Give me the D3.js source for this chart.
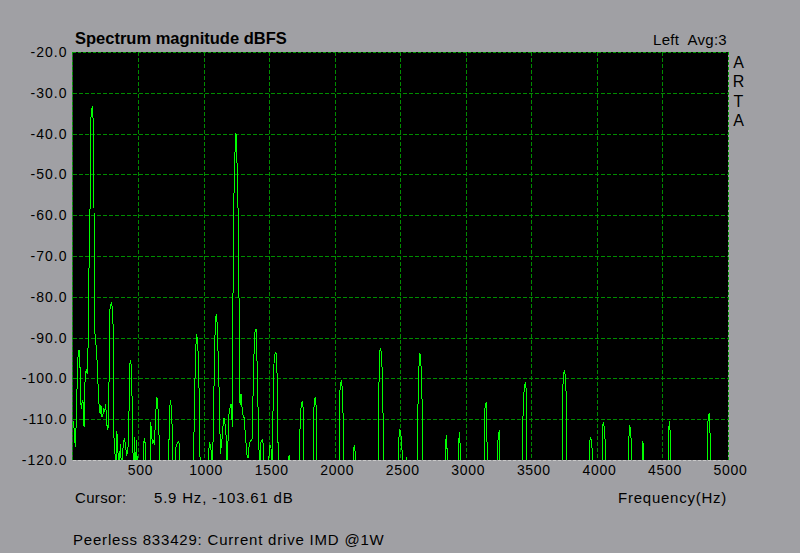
<!DOCTYPE html>
<html><head><meta charset="utf-8">
<script src="https://cdn.jsdelivr.net/npm/d3@7"></script>
<style>
html,body{margin:0;padding:0;background:#a0a0a4;}
svg{display:block;}
text{font-family:"Liberation Sans",Arial,sans-serif;fill:#000;white-space:pre;}
</style></head>
<body>
<svg id="chart" width="800" height="553"></svg>
<script>
// ---- data ----
const yTicks = [-20,-30,-40,-50,-60,-70,-80,-90,-100,-110,-120];
const xTicks = [500,1000,1500,2000,2500,3000,3500,4000,4500,5000];
const xGrid = [500,1000,1500,2000,2500,3000,3500,4000,4500];
const yGrid = [-30,-40,-50,-60,-70,-80,-90,-100,-110];
const titleText = "Spectrum magnitude dBFS";
const channelText = "Left  Avg:3";
const brandLetters = ["A","R","T","A"];
const cursorLabel = "Cursor:";
const cursorValue = "5.9 Hz, -103.61 dB";
const xAxisTitle = "Frequency(Hz)";
const caption = "Peerless 833429: Current drive IMD @1W";

// spectrum (frequency in Hz, level in dBFS); values below -120 fall under the floor
const spectrumHz = [
 0,6,11,16,21,27,32,39,44,50,55,60,63,68,75,82,88,93,100,106,112,116,121,128,
 133,138,146,151,157,164,167,172,179,184,192,197,205,210,217,225,233,238,245,253,
 261,268,276,283,291,296,304,309,314,322,329,337,345,352,360,367,375,383,390,398,
 406,413,421,428,436,444,451,459,466,474,482,489,497,540,545,548,556,563,591,594,
 601,609,617,624,634,642,650,657,665,672,731,739,746,754,761,769,782,785,792,800,
 807,815,822,
 922,929,937,945,952,960,967,975,1036,1040,1044,1051,1059,1066,1074,1082,1090,1097,
 1105,1112,1120,1128,1135,1143,1151,1158,1166,1174,1181,1189,1196,1204,1212,1219,
 1227,1235,1242,1247,1252,1260,1268,1273,1278,1285,1293,1301,1308,1316,1324,1331,
 1339,1346,1354,1362,1369,1377,1385,1392,1400,1407,1415,1423,1430,1438,1446,1453,
 1461,1494,1499,1507,1514,1522,1527,1530,1537,1545,1552,1560,1568,1575,
 1641,1646,1652,1659,1730,1733,1738,1746,1753,1761,1764,1837,1840,1847,1852,1860,1863,
 2033,2036,2043,2051,2058,2064,2068,2140,2142,2150,2157,2160,
 2331,2334,2341,2348,2356,2363,2369,2373,2486,2491,2498,2506,2514,2518,2543,2545,2548,
 2628,2631,2638,2646,2653,2661,2668,2671,2841,2844,2852,2859,2862,2943,2946,2951,2958,2962,
 3139,3142,3149,3157,3162,3165,3240,3243,3251,3258,3261,
 3429,3431,3439,3447,3454,3462,3467,3734,3737,3744,3752,3759,3767,3770,
 3940,3943,3950,3958,3965,3968,4039,4042,4049,4057,4065,4068,
 4237,4240,4248,4255,4263,4266,4344,4347,4354,4357,4542,4545,4553,4560,4563,
 4840,4843,4850,4858,4866,4869,5000
];
const spectrumDb = [
 -111,-110.5,-112,-114,-116.8,-112,-105.8,-96.4,-93.6,-93,-95,-100,-106,-107.4,-105.4,-106,-111.9,-102,-98.5,-98,-99,-98.5,-85.4,-68,
 -61.9,-37.1,-34,-33.7,-36.3,-58.2,-88.9,-89.1,-91.5,-94.4,-97.2,-105,-107,-108.6,-106.6,-109.4,-108.6,-107.4,-108.2,-106.2,
 -111,-112.7,-111,-83.4,-82.2,-81.4,-82.6,-86.7,-114.3,-115.5,-125,-113,-115.1,-125,-118.6,-116.2,-125,-117.8,-115.4,-114.9,
 -117,-119,-117.8,-114.9,-96.4,-95.6,-98.5,-114.3,-125,-114.3,-125,-115.1,-125,-125,-115.5,-114.7,-116.3,-125,-125,-110.8,
 -112,-116,-115.1,-116.3,-109.4,-104.5,-105.7,-111,-118.7,-125,-125,-109.6,-105.2,-107,-112.7,-125,-125,-117.8,-116.3,-115.9,
 -115.5,-116,-125,
 -125,-108.2,-96.4,-89.1,-90.2,-94.8,-105.2,-125,-125,-117.5,-115.9,-116.3,-118,-125,-111.9,-97,-85,-84.5,
 -86.9,-96,-104.6,-118.5,-116.3,-114.3,-110,-109.8,-111.9,-115,-125,-110.2,-108,-106.8,-106.2,-111.9,
 -63.2,-49.3,-42,-39.9,-44,-53,-69.3,-95,-106.5,-103.8,-107,-109,-109.5,-112.7,-116,-118.8,
 -119.5,-117,-115.6,-115,-115.4,-104.1,-93.5,-88.6,-87.8,-95.1,-107,-117.8,-125,-115.4,-115,-115.8,
 -125,-125,-118.8,-116.3,-117,-125,-125,-104.5,-96.4,-93.9,-93.5,-98.8,-116.7,-125,
 -125,-119.3,-118.9,-125,-125,-115.4,-109.3,-106.2,-105.6,-107.7,-125,-125,-108,-105.1,-104.7,-107.2,-125,
 -125,-105.6,-101.5,-100.5,-102.4,-109,-125,-125,-117.2,-116.6,-118.4,-125,
 -125,-110.9,-93.8,-92.5,-93.8,-98.7,-109.3,-125,-125,-113.3,-112.5,-114.2,-117.8,-125,-125,-119.2,-125,
 -125,-113.7,-102.4,-93.7,-94.3,-98.2,-107.8,-125,-125,-116.3,-114,-118.7,-125,-125,-115.8,-113.2,-117,-125,
 -125,-109.7,-106.1,-105.9,-116,-125,-125,-116,-113.2,-112.8,-125,
 -125,-116.1,-106.1,-101.9,-101,-102.9,-125,-125,-104.9,-99.4,-98,-99.4,-104.7,-125,
 -125,-116.5,-114.5,-115.2,-117.8,-125,-125,-112.3,-110.8,-112,-116.5,-125,
 -125,-118.6,-111.5,-112.3,-115.7,-125,-125,-115.4,-116.1,-125,-125,-113.7,-110.4,-113.7,-125,
 -125,-112.7,-109.3,-108.6,-116.8,-125,-125
];

// ---- drawing ----
const svg = d3.select("#chart");
const W = 800, H = 553;
const plot = {left: 72.5, right: 728, top: 52, bottom: 460};

const x = d3.scaleLinear().domain([0, 5000]).range([plot.left, plot.right]);
const y = d3.scaleLinear().domain([-120, -20]).range([plot.bottom, plot.top]);

svg.append("rect").attr("width", W).attr("height", H).attr("fill", "#a0a0a4");

// plot background
svg.append("rect")
  .attr("x", plot.left).attr("y", plot.top)
  .attr("width", plot.right - plot.left).attr("height", plot.bottom - plot.top)
  .attr("fill", "#000");

const gridColor = "#008c00";
// horizontal grid
const gy = svg.append("g").attr("transform", `translate(${plot.left},0)`)
  .call(d3.axisLeft(y).tickValues(yGrid).tickSize(-(plot.right - plot.left)).tickFormat(""));
gy.select(".domain").remove();
gy.selectAll("line").attr("stroke", gridColor).attr("stroke-dasharray", "4,2").attr("shape-rendering", "crispEdges");

// vertical grid
const gx = svg.append("g").attr("transform", `translate(0,${plot.top})`)
  .call(d3.axisTop(x).tickValues(xGrid).tickSize(-(plot.bottom - plot.top)).tickFormat(""));
gx.select(".domain").remove();
gx.selectAll("line").attr("stroke", gridColor).attr("stroke-dasharray", "4,2").attr("shape-rendering", "crispEdges");

// clip for spectrum
svg.append("clipPath").attr("id", "clip")
  .append("rect")
  .attr("x", plot.left).attr("y", plot.top)
  .attr("width", plot.right - plot.left).attr("height", plot.bottom - plot.top);

const spectrum = spectrumHz.map((f, i) => [f, spectrumDb[i]]);
const line = d3.line().x(d => x(d[0])).y(d => y(d[1]));
svg.append("path")
  .datum(spectrum)
  .attr("clip-path", "url(#clip)")
  .attr("fill", "none")
  .attr("stroke", "#00ff00")
  .attr("stroke-width", 1)
  .attr("shape-rendering", "crispEdges")
  .attr("d", line);

// frame
const frame = svg.append("g");
frame.append("line").attr("x1", plot.left).attr("x2", plot.right).attr("y1", plot.top).attr("y2", plot.top);
frame.append("line").attr("x1", plot.left).attr("x2", plot.left).attr("y1", plot.top).attr("y2", plot.bottom);
frame.append("line").attr("x1", plot.right).attr("x2", plot.right).attr("y1", plot.top).attr("y2", plot.bottom);
frame.selectAll("line").attr("stroke", "#00a000").attr("stroke-dasharray", "3,2").attr("shape-rendering", "crispEdges");
frame.append("line").attr("x1", plot.left).attr("x2", plot.right).attr("y1", plot.bottom).attr("y2", plot.bottom)
  .attr("stroke", "#c8c8c8").attr("stroke-dasharray", "3,2").attr("shape-rendering", "crispEdges");

// y axis labels
const yAxis = svg.append("g").attr("transform", `translate(${plot.left - 5},0)`)
  .call(d3.axisLeft(y).tickValues(yTicks).tickSize(0).tickPadding(0).tickFormat(d => d.toFixed(1)));
yAxis.select(".domain").remove();
yAxis.selectAll("text")
  .attr("font-size", 14).attr("letter-spacing", "1px").attr("fill", "#000")
  .style("font-family", '"Liberation Sans", Arial, sans-serif');

// x axis labels
const xAxis = svg.append("g").attr("transform", `translate(2,${plot.bottom + 5})`)
  .call(d3.axisBottom(x).tickValues(xTicks).tickSize(0).tickPadding(0).tickFormat(d => String(d)));
xAxis.select(".domain").remove();
xAxis.selectAll("text")
  .attr("font-size", 14).attr("letter-spacing", "0.7px").attr("fill", "#000")
  .style("font-family", '"Liberation Sans", Arial, sans-serif');

// texts
svg.append("text").attr("x", 75).attr("y", 44)
  .attr("font-size", 16.5).attr("font-weight", "bold").text(titleText);
svg.append("text").attr("x", 727).attr("y", 45).attr("text-anchor", "end")
  .attr("font-size", 15).attr("letter-spacing", "0.3px").text(channelText);
svg.selectAll("text.brand").data(brandLetters).join("text")
  .attr("class", "brand")
  .attr("x", 738.5).attr("y", (d, i) => 67.5 + i * 19.5)
  .attr("text-anchor", "middle").attr("font-size", 16).text(d => d);
svg.append("text").attr("x", 75).attr("y", 503)
  .attr("font-size", 15).attr("letter-spacing", "0.35px").text(cursorLabel);
svg.append("text").attr("x", 154).attr("y", 503)
  .attr("font-size", 15).attr("letter-spacing", "0.8px").text(cursorValue);
svg.append("text").attr("x", 727).attr("y", 503).attr("text-anchor", "end")
  .attr("font-size", 15).attr("letter-spacing", "0.75px").text(xAxisTitle);
svg.append("text").attr("x", 73).attr("y", 545)
  .attr("font-size", 15).attr("letter-spacing", "0.8px").text(caption);
</script>
</body></html>
